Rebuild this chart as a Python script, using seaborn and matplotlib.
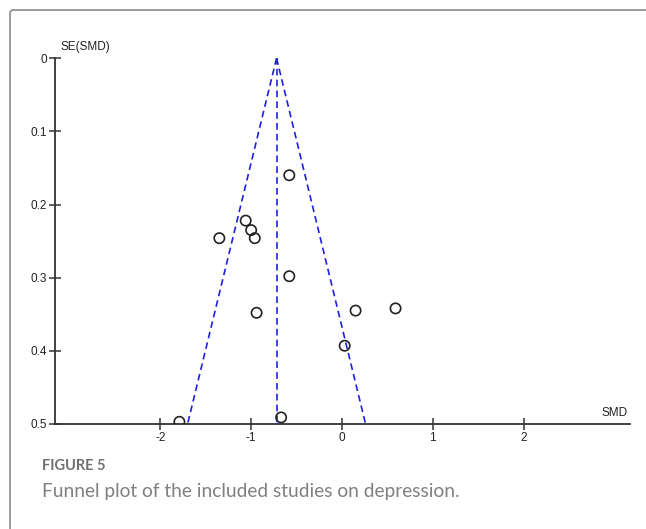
import numpy as np
import pandas as pd
import seaborn as sns
import matplotlib.pyplot as plt
from matplotlib.patches import FancyBboxPatch

# study effects
smd = [-0.58, -1.06, -1.00, -0.96, -1.35, -0.58, -0.94, 0.15, 0.59, 0.03, -1.79, -0.67]
se_smd = [0.160, 0.222, 0.235, 0.246, 0.246, 0.298, 0.348, 0.345, 0.342, 0.393, 0.497, 0.491]

# pooled estimate and funnel limits (pooled +/- 1.96 SE)
pooled = -0.72
funnel_se = [0.0, 0.5]

x_ticks = [-2, -1, 0, 1, 2]
y_ticks = [0, 0.1, 0.2, 0.3, 0.4, 0.5]

studies = pd.DataFrame({"SMD": smd, "SE": se_smd})
funnel = pd.DataFrame({"SE": funnel_se * 2,
                       "SMD": [pooled - 1.96 * s for s in funnel_se]
                              + [pooled + 1.96 * s for s in funnel_se],
                       "side": ["lower"] * 2 + ["upper"] * 2})
centre = pd.DataFrame({"SE": funnel_se, "SMD": [pooled, pooled]})

sns.set_style("white")
plt.rcParams['font.family'] = ['Liberation Sans', 'DejaVu Sans']

fig = plt.figure(figsize=(6.46, 5.29), dpi=100)
ax = fig.add_axes([0.0851, 0.1985, 0.8899, 0.6915])

# funnel lines
sns.lineplot(data=funnel, x="SMD", y="SE", units="side", estimator=None,
             color="#2020e0", linestyle=(0, (4, 2.5)), linewidth=1.2,
             sort=False, ax=ax)
sns.lineplot(data=centre, x="SMD", y="SE", estimator=None, color="#2020e0",
             linestyle=(0, (4, 2.5)), linewidth=1.2, sort=False, ax=ax)

# studies
sns.scatterplot(data=studies, x="SMD", y="SE", s=55, facecolors="none",
                edgecolor="#222222", linewidth=1.2, ax=ax, zorder=3)

ax.set_xlim(-3.16, 3.17)
ax.set_ylim(0.5, 0)
ax.set_xticks(x_ticks)
ax.set_xticklabels([str(t) for t in x_ticks])
ax.set_yticks(y_ticks)
ax.set_yticklabels(["0", "0.1", "0.2", "0.3", "0.4", "0.5"])
ax.set_xlabel("")
ax.set_ylabel("")
for s in ["top", "right"]:
    ax.spines[s].set_visible(False)
for s in ["left", "bottom"]:
    ax.spines[s].set_color("#333333")
    ax.spines[s].set_linewidth(1.3)
ax.tick_params(bottom=True, left=True, direction="inout", length=8, width=1.1,
               colors="#333333", labelsize=8.5, pad=1.5, labelcolor="#222222")
ax.set_facecolor("none")

fig.text(0.093, 0.911, "SE(SMD)", fontsize=8.5, ha="left", va="center", color="#222222")
fig.text(0.972, 0.219, "SMD", fontsize=8.5, ha="right", va="center", color="#222222")

# caption
fig.text(0.065, 0.119, "FIGURE 5", fontsize=10.5, fontweight="bold", family="Lato",
         color="#707070", ha="left", va="center")
fig.text(0.065, 0.070, "Funnel plot of the included studies on depression.",
         fontsize=13.8, family="Lato", color="#808080", ha="left", va="center")

# frame around the figure panel
frame = FancyBboxPatch((10 / 646, -0.05), 1.1, 1 - 10 / 529 + 0.05,
                       boxstyle="round,pad=0,rounding_size=0.006",
                       transform=fig.transFigure, facecolor="none",
                       edgecolor="#8a8a8a", linewidth=1.2)
fig.patches.append(frame)

fig.savefig("out.png", dpi=100)
